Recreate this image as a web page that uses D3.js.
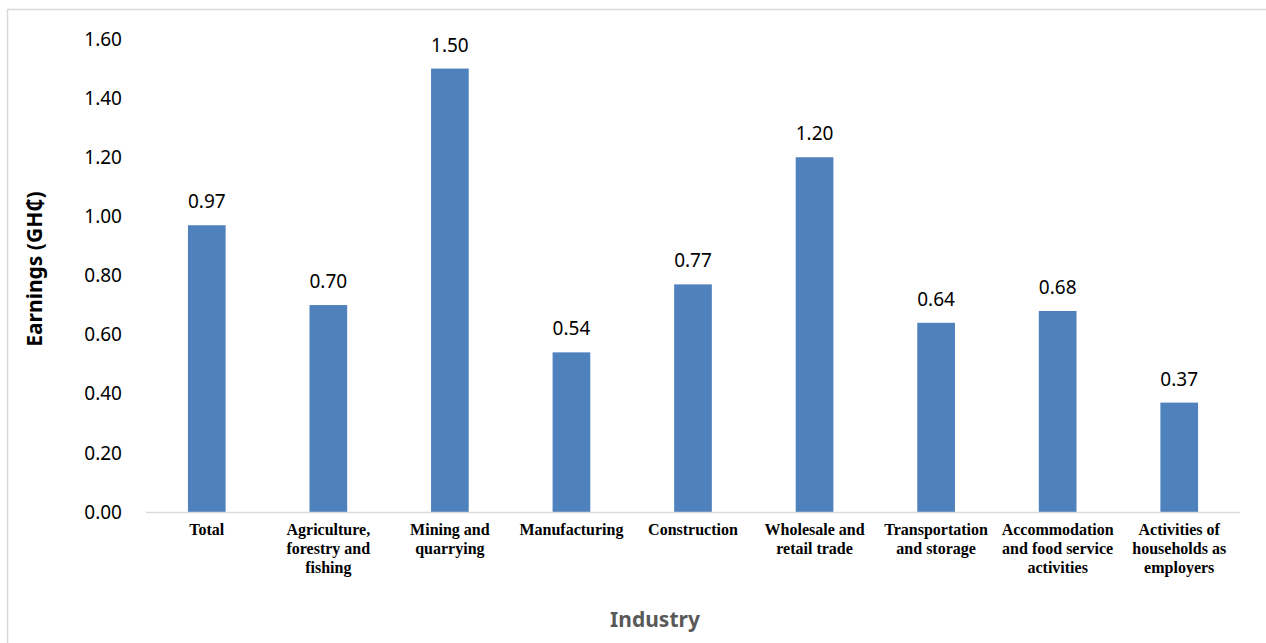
<!DOCTYPE html>
<html>
<head>
<meta charset="utf-8">
<script src="https://cdn.jsdelivr.net/npm/d3@7"></script>
<style>
body{margin:0;background:#fff}
</style>
</head>
<body>
<svg></svg>
<script>
var industries=[
  ["Total"],
  ["Agriculture,","forestry and","fishing"],
  ["Mining and","quarrying"],
  ["Manufacturing"],
  ["Construction"],
  ["Wholesale and","retail trade"],
  ["Transportation","and storage"],
  ["Accommodation","and food service","activities"],
  ["Activities of","households as","employers"]
]
var earnings=[0.97,0.70,1.50,0.54,0.77,1.20,0.64,0.68,0.37]
var yTicks=[0,0.2,0.4,0.6,0.8,1.0,1.2,1.4,1.6]

var screen={width:1266,height:643}
var svg=d3.select("svg")
  .attr("width",screen.width)
  .attr("height",screen.height)

// chart border
svg.append("rect")
  .attr("x",7.5).attr("y",9.5)
  .attr("width",1300).attr("height",700)
  .attr("fill","none").attr("stroke","#d9d9d9").attr("stroke-width",1.5)

var xScale=d3.scaleBand()
  .domain(d3.range(industries.length))
  .range([146,1240])
  .paddingInner(0.69).paddingOuter(0.345)
var yScale=d3.scaleLinear().domain([0,1.6]).range([512,39])

// y tick labels
svg.selectAll(".ytick")
  .data(yTicks)
  .enter()
  .append("text")
  .attr("x",122)
  .attr("y",function(d){return yScale(d)})
  .attr("dy","0.35em")
  .attr("text-anchor","end")
  .attr("font-family","Noto Sans, sans-serif")
  .attr("font-size",19)
  .attr("fill","#000")
  .text(function(d){return d.toFixed(2)})

svg.selectAll(".bar")
  .data(earnings)
  .enter()
  .append("rect")
  .attr("x",function(d,i){return xScale(i)})
  .attr("y",function(d){return yScale(d)})
  .attr("width",xScale.bandwidth())
  .attr("height",function(d){return yScale(0)-yScale(d)})
  .attr("fill","#4f81bd")

// baseline
svg.append("line")
  .attr("x1",146).attr("x2",1240)
  .attr("y1",yScale(0)+0.5).attr("y2",yScale(0)+0.5)
  .attr("stroke","#d9d9d9").attr("stroke-width",1.5)

// value labels
svg.selectAll(".val")
  .data(earnings)
  .enter()
  .append("text")
  .attr("x",function(d,i){return xScale(i)+xScale.bandwidth()/2})
  .attr("y",function(d){return yScale(d)-17})
  .attr("text-anchor","middle")
  .attr("font-family","Noto Sans, sans-serif")
  .attr("font-size",19)
  .attr("fill","#000")
  .text(function(d){return d.toFixed(2)})

// category labels
var cat=svg.selectAll(".cat")
  .data(industries)
  .enter()
  .append("text")
  .attr("text-anchor","middle")
  .attr("font-family","Liberation Serif, serif")
  .attr("font-weight","bold")
  .attr("font-size",16)
  .attr("fill","#000")
cat.selectAll("tspan")
  .data(function(d,i){return d.map(function(t){return {t:t,i:i}})})
  .enter()
  .append("tspan")
  .attr("x",function(d){return xScale(d.i)+xScale.bandwidth()/2})
  .attr("y",function(d,j){return 535+j*19})
  .text(function(d){return d.t})

// axis titles
svg.append("text")
  .attr("transform","translate(42,269) rotate(-90)")
  .attr("text-anchor","middle")
  .attr("font-family","Noto Sans, sans-serif")
  .attr("font-weight","bold")
  .attr("font-size",21)
  .attr("fill","#000")
  .text("Earnings (GH₵)")

svg.append("text")
  .attr("x",655).attr("y",627)
  .attr("text-anchor","middle")
  .attr("font-family","Noto Sans, sans-serif")
  .attr("font-weight","bold")
  .attr("font-size",21)
  .attr("fill","#595959")
  .text("Industry")
</script>
</body>
</html>
